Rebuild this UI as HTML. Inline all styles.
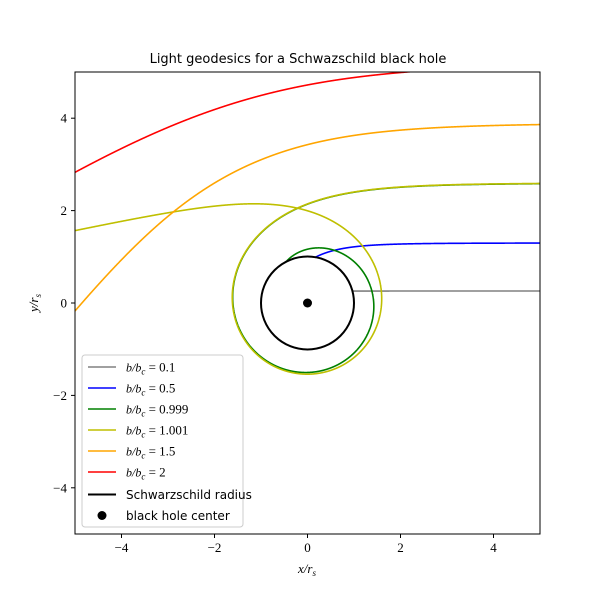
<!DOCTYPE html>
<html><head><meta charset="utf-8"><style>
body{margin:0;background:#fff;}
svg text{font-family:"DejaVu Sans","Liberation Sans",sans-serif;}
.tk{font-family:"Liberation Serif","DejaVu Serif",serif;font-size:13px;}
.m{font-family:"Liberation Serif",serif;font-style:italic;}
</style></head><body>
<svg id="chart" width="600" height="600" xmlns="http://www.w3.org/2000/svg">
<defs><clipPath id="clip"><rect x="75" y="72" width="465" height="462"/></clipPath></defs>
<rect x="0" y="0" width="600" height="600" fill="#fff"/>
<text x="298" y="63" text-anchor="middle" font-size="13">Light geodesics for a Schwazschild black hole</text>
<g id="plot" clip-path="url(#clip)"></g>
<rect x="75" y="72" width="465" height="462" fill="none" stroke="#000" stroke-width="1"/>
<g id="axes"></g>
<text x="307" y="573" text-anchor="middle" class="m" font-size="13">x/r<tspan font-size="9" dy="3">s</tspan></text>
<text transform="translate(38,303) rotate(-90)" text-anchor="middle" class="m" font-size="13">y/r<tspan font-size="9" dy="3">s</tspan></text>
<g id="legend"></g>
</svg>
<script>
const ratios=[0.1,0.5,0.999,1.001,1.5,2];
const labels=["0.1","0.5","0.999","1.001","1.5","2"];
const colors=["gray","blue","green","#bfbf00","orange","red"];
const xTicks=[-4,-2,0,2,4];
const yTicks=[-4,-2,0,2,4];
const NS="http://www.w3.org/2000/svg";
const X0=75,X1=540,Y0=534,Y1=72;
const sx=v=>X0+(v+5)/10*(X1-X0);
const sy=v=>Y0-(v+5)/10*(Y0-Y1);
const plot=document.getElementById('plot');
const axes=document.getElementById('axes');
const bc=3*Math.sqrt(3)/2;
function mk(t,a,p){const e=document.createElementNS(NS,t);for(const k in a)e.setAttribute(k,a[k]);(p||plot).appendChild(e);return e;}
function geo(b){
  const f=(u)=>1.5*u*u-u;
  let phi=Math.atan2(b,60),u=Math.sin(phi)/b,v=Math.cos(phi)/b;
  const h=0.0008;const pts=[];
  for(let i=0;i<40000;i++){
    const r=1/u;const x=Math.cos(phi)*r,y=Math.sin(phi)*r;
    if(Math.abs(x)<9&&Math.abs(y)<9)pts.push(sx(x).toFixed(2)+","+sy(y).toFixed(2));
    const k1u=v,k1v=f(u);
    const k2u=v+h/2*k1v,k2v=f(u+h/2*k1u);
    const k3u=v+h/2*k2v,k3v=f(u+h/2*k2u);
    const k4u=v+h*k3v,k4v=f(u+h*k3u);
    u+=h/6*(k1u+2*k2u+2*k3u+k4u);v+=h/6*(k1v+2*k2v+2*k3v+k4v);phi+=h;
    if(u>=1){const x2=Math.cos(phi),y2=Math.sin(phi);pts.push(sx(x2).toFixed(2)+","+sy(y2).toFixed(2));break;}
    if(u<=0.01)break;
  }
  return pts.join(" ");
}
ratios.forEach((q,i)=>{
  const p=mk('polyline',{points:geo(q*bc),fill:'none',stroke:colors[i],'stroke-width':1.6});
  
  
});
const c=mk('circle',{cx:sx(0),cy:sy(0),r:sx(1)-sx(0),fill:'none',stroke:'#000','stroke-width':2});


const d=mk('circle',{cx:sx(0),cy:sy(0),r:4.5,fill:'#000'});


xTicks.forEach(t=>{
  mk('line',{x1:sx(t),x2:sx(t),y1:Y0,y2:Y0+4,stroke:'#000'},axes);
  const e=mk('text',{x:sx(t),y:Y0+18,'text-anchor':'middle',class:'tk'},axes);
  e.textContent=t<0?'\u2212'+(-t):t;
  
  
});
yTicks.forEach(t=>{
  mk('line',{x1:X0-4,x2:X0,y1:sy(t),y2:sy(t),stroke:'#000'},axes);
  const e=mk('text',{x:X0-8,y:sy(t)+4.5,'text-anchor':'end',class:'tk'},axes);
  e.textContent=t<0?'\u2212'+(-t):t;
  
  
});
const lg=document.getElementById('legend');
mk('rect',{x:82,y:355,width:161,height:172,rx:3,fill:'#fff',stroke:'#ccc','fill-opacity':0.8},lg);
const items=labels.map((l,i)=>({c:colors[i],t:'b/b_c = '+l,math:true}));
items.push({c:'#000',t:'Schwarzschild radius'});
items.push({c:'#000',t:'black hole center',dot:true});
items.forEach((it,i)=>{
  const y=367+i*21+(i>=6?1.5:0);
  if(it.dot)mk('circle',{cx:102,cy:y,r:4.5,fill:'#000'},lg);
  else mk('line',{x1:88,x2:116,y1:y,y2:y,stroke:it.c,'stroke-width':it.c=='#000'?2:1.6},lg);
  const e=mk('text',{x:126,y:y+4.5,'font-size':12},lg);
  if(it.math){e.innerHTML='<tspan class="m">b/b</tspan><tspan class="m" font-size="9" dy="3">c</tspan><tspan class="tk" font-size="12" dy="-3"> = '+labels[i]+'</tspan>';}
  else e.textContent=it.t;
  
  
});
</script>
</body></html>
